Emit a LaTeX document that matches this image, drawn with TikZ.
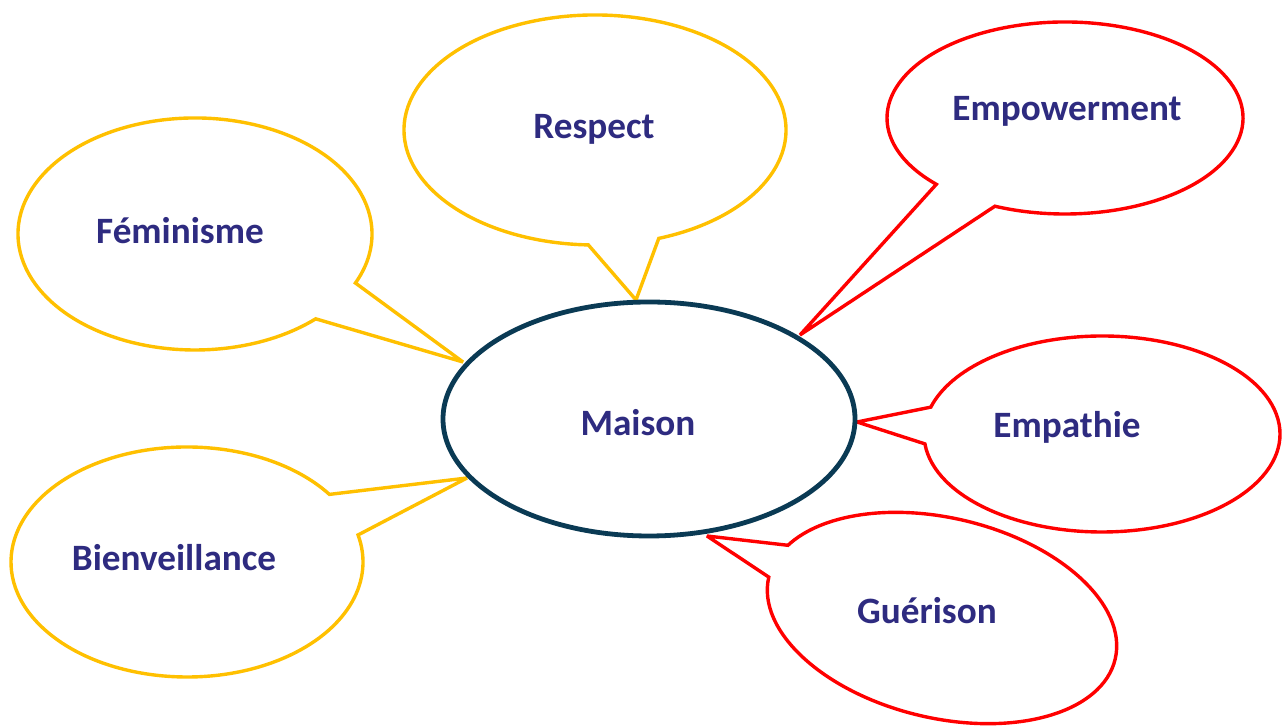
\documentclass[tikz,border=0pt]{standalone}
\usepackage{fontspec}
\setmainfont{Carlito}
\usetikzlibrary{shapes.geometric}
\definecolor{txtblue}{RGB}{46,43,128}
\definecolor{goldline}{RGB}{255,192,0}
\definecolor{redline}{RGB}{255,0,0}
\definecolor{darkline}{RGB}{10,58,84}
\tikzset{
  goldcall/.style={draw=goldline, line width=1.7pt, line join=miter, miter limit=3, fill=white},
  redcall/.style={draw=redline, line width=1.7pt, line join=miter, miter limit=3, fill=white},
  lbl/.style={anchor=base, text=txtblue, font=\fontsize{18.6}{22}\selectfont\bfseries, inner sep=0pt},
}
\begin{document}
\begin{tikzpicture}[x=0.5pt,y=0.5pt]
\useasboundingbox[fill=white] (0,0) rectangle (1284,726);
% pointer tips on the central ellipse
\coordinate (tipF) at (463,364);
\coordinate (tipR) at (636,426);
\coordinate (tipB) at (467,248);
\coordinate (tipE) at (800,391);
\coordinate (tipA) at (857,304);
\coordinate (tipG) at (707,190);
% callouts
\draw[goldcall] (195,492) ++(-25:177 and 116) arc[start angle=-25, end angle=313, x radius=177, y radius=116] -- (tipF) -- cycle;
\draw[goldcall] (595,596) ++(-70.5:191 and 115) arc[start angle=-70.5, end angle=268, x radius=191, y radius=115] -- (tipR) -- cycle;
\draw[goldcall] (187,164) ++(36:176 and 115) arc[start angle=36, end angle=373.6, x radius=176, y radius=115] -- (tipB) -- cycle;
\draw[redcall] (1065,608) ++(246.8:178 and 96) arc[start angle=246.8, end angle=583.7, x radius=178, y radius=96] -- (tipE) -- cycle;
\draw[redcall] (1102,292) ++(185.8:178 and 98) arc[start angle=185.8, end angle=524.1, x radius=178, y radius=98] -- (tipA) -- cycle;
\draw[redcall, rotate around={-13.4:(942,108)}] (942,108) ++(180.2:178 and 100) arc[start angle=180.2, end angle=519.5, x radius=178, y radius=100] -- (tipG) -- cycle;
% central ellipse
\node[draw=darkline, line width=2.4pt, ellipse, minimum width=206pt, minimum height=117pt, inner sep=0pt] (maison) at (649,307) {};
% labels
\node[lbl] (maisonlbl) at (638,290) {Maison};
\node[lbl] (respect) at (594,587) {Respect};
\node[lbl] (feminisme) at (180,482) {Féminisme};
\node[lbl] (bienveillance) at (174,155) {Bienveillance};
\node[lbl] (empowerment) at (1067,605) {Empowerment};
\node[lbl] (empathie) at (1067,288) {Empathie};
\node[lbl] (guerison) at (927,102) {Guérison};
\end{tikzpicture}
\end{document}
